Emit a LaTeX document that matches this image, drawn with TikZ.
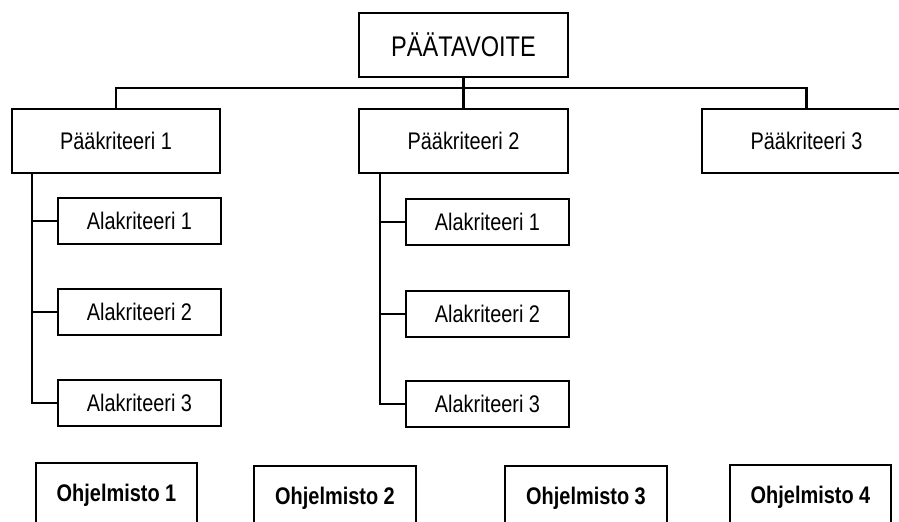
\documentclass[tikz,border=0pt]{standalone}
\usepackage{fontspec}
\setmainfont[FakeStretch=0.83]{Liberation Sans}
\usetikzlibrary{positioning}
\tikzset{
  box/.style={draw, line width=1.6pt, inner sep=0pt, minimum height=48pt,
    font=\fontsize{18}{22}\selectfont},
  subbox/.style={box, minimum width=122pt, minimum height=35pt},
  softbox/.style={box, minimum width=121pt, font=\fontsize{18}{22}\selectfont\bfseries},
  link/.style={line width=1.6pt}
}
\begin{document}
\begin{tikzpicture}[x=0.75pt, y=-0.75pt]
                \clip (0,0) rectangle (899,521);
                % Goal
                \node[box, minimum width=157pt, font=\fontsize{21.3}{26}\selectfont] (goal) at (463.5,45) {PÄÄTAVOITE};
                % Main criteria
                \node[box, minimum width=156pt] (pk1) at (116,141) {Pääkriteeri 1};
                \node[box, minimum width=157pt] (pk2) at (463.5,141) {Pääkriteeri 2};
                \node[box, minimum width=157pt] (pk3) at (806.5,141) {Pääkriteeri 3};
                % Sub criteria
                \node[subbox] (a11) at (139.5,221) {Alakriteeri 1};
                \node[subbox] (a12) at (139.5,312) {Alakriteeri 2};
                \node[subbox] (a13) at (139.5,403) {Alakriteeri 3};
                \node[subbox] (a21) at (487.5,222) {Alakriteeri 1};
                \node[subbox] (a22) at (487.5,314) {Alakriteeri 2};
                \node[subbox] (a23) at (487.5,404) {Alakriteeri 3};
                % Software
                \node[softbox] (o1) at (116.5,495) {Ohjelmisto 1};
                \node[softbox] (o2) at (335,498) {Ohjelmisto 2};
                \node[softbox] (o3) at (586,498) {Ohjelmisto 3};
                \node[softbox] (o4) at (810.5,497) {Ohjelmisto 4};
                % Goal to main criteria
                \draw[link] (goal.south) -- ++(0,10) coordinate (bar);
                \draw[link] (pk1.north) |- (bar) -| (pk3.north);
                \draw[link] (bar) -- (pk2.north);
                % Spines to sub criteria
                \coordinate (s1) at ([xshift=15.75pt]pk1.south west);
                \coordinate (s2) at ([xshift=16.5pt]pk2.south west);
                \draw[link] (s1) |- (a13.west);
                \draw[link] (s2) |- (a23.west);
                \foreach \i in {1,2} {
                  \draw[link] (a1\i.west) -- (a1\i.west -| s1);
                  \draw[link] (a2\i.west) -- (a2\i.west -| s2);
                }
            \end{tikzpicture}
\end{document}
